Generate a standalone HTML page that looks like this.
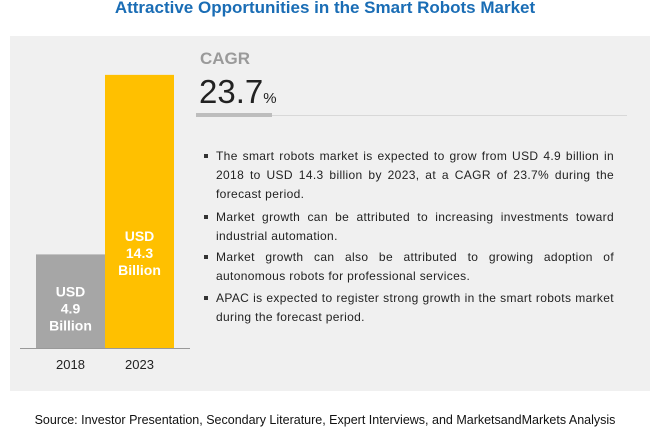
<!DOCTYPE html>
<html><head><meta charset="utf-8"><style>
body{margin:0;width:650px;height:433px;background:#fff;position:relative;overflow:hidden;font-family:"Liberation Sans",sans-serif}
.abs{position:absolute}
#title{left:0;width:650px;top:-2px;text-align:center;font-size:17px;font-weight:bold;color:#1a6db5}
#panel{left:10px;top:36px;width:640px;height:355px;background:#f0f0f0}
.bl{left:216px;width:398px;font-size:12px;color:#222;line-height:19px;text-align:justify;letter-spacing:0.35px}
.bl:before{content:"";position:absolute;left:-12px;top:7px;width:4px;height:4px;background:#333}
#src{left:0;width:650px;top:413px;text-align:center;font-size:12.5px;color:#111}
</style></head><body>
<div id="title" class="abs">Attractive Opportunities in the Smart Robots Market</div>
<div id="panel" class="abs"></div>
<svg class="abs" style="left:0;top:0" width="650" height="433" id="chart"></svg>
<div class="abs" style="left:200px;top:49px;font-size:17px;font-weight:bold;color:#9a9a9a">CAGR</div>
<div class="abs" style="left:199px;top:73px;font-size:33px;color:#222">23.7<span style="font-size:15px">%</span></div>
<div class="abs" style="left:196px;top:115px;width:431px;height:1px;background:#d8d8d8"></div>
<div class="abs" style="left:196px;top:113px;width:76px;height:4px;background:#bdbdbd"></div>
<div class="abs bl" style="top:147px">The smart robots market is expected to grow from USD 4.9 billion in 2018 to USD 14.3 billion by 2023, at a CAGR of 23.7% during the forecast period.</div>
<div class="abs bl" style="top:208px">Market growth can be attributed to increasing investments toward industrial automation.</div>
<div class="abs bl" style="top:248px">Market growth can also be attributed to growing adoption of autonomous robots for professional services.</div>
<div class="abs bl" style="top:289px">APAC is expected to register strong growth in the smart robots market during the forecast period.</div>
<div id="src" class="abs">Source: Investor Presentation, Secondary Literature, Expert Interviews, and MarketsandMarkets Analysis</div>
<script>
const categories=["2018","2023"];
const values=[4.9,14.3];
const labels=["4.9","14.3"];
const colors=["#a6a6a6","#ffc000"];
const svg=document.getElementById('chart');
const NS="http://www.w3.org/2000/svg";
const base=348, scale=19.1, x0=36, bw=69;
function y(v){return base-v*scale;}
function xb(i){return x0+i*bw;}
categories.forEach((c,i)=>{
  const r=document.createElementNS(NS,'rect');
  r.setAttribute('x',xb(i));r.setAttribute('width',bw);
  r.setAttribute('y',y(values[i]));r.setAttribute('height',base-y(values[i]));
  r.setAttribute('fill',colors[i]);
  
  
  svg.appendChild(r);
  const cy=(i===0)?y(values[i])+42:y(values[i])+166;
  ["USD",labels[i],"Billion"].forEach((t,k)=>{
    const tx=document.createElementNS(NS,'text');
    tx.setAttribute('x',xb(i)+bw/2);tx.setAttribute('y',cy+k*17);
    tx.setAttribute('text-anchor','middle');tx.setAttribute('fill','#fff');
    tx.setAttribute('font-size','14');tx.setAttribute('font-weight','bold');
    tx.setAttribute('font-family','Liberation Sans, sans-serif');
    tx.textContent=t;
    
    
    svg.appendChild(tx);
  });
  const xl=document.createElementNS(NS,'text');
  xl.setAttribute('x',xb(i)+bw/2);xl.setAttribute('y',369);
  xl.setAttribute('text-anchor','middle');xl.setAttribute('fill','#222');
  xl.setAttribute('font-size','13');xl.setAttribute('font-family','Liberation Sans, sans-serif');
  xl.textContent=c;
  
  
  svg.appendChild(xl);
});
const ax=document.createElementNS(NS,'line');
ax.setAttribute('x1',20);ax.setAttribute('x2',190);ax.setAttribute('y1',base+0.5);ax.setAttribute('y2',base+0.5);
ax.setAttribute('stroke','#999');


svg.appendChild(ax);
</script>
</body></html>
